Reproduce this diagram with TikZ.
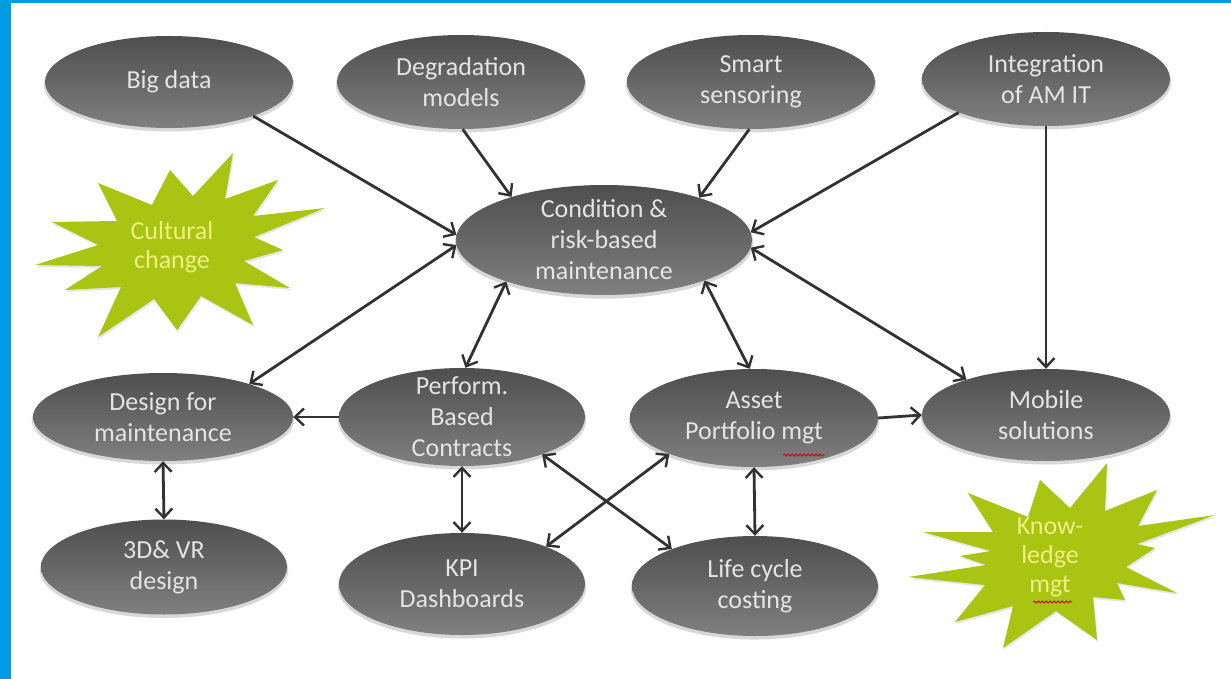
\documentclass[tikz,border=0pt]{standalone}
\usepackage{fontspec}
\setmainfont{Carlito}
\usetikzlibrary{shapes.geometric,arrows.meta,shadows,decorations.pathmorphing}
\definecolor{blueb}{RGB}{0,155,229}
\definecolor{ellTop}{RGB}{78,78,78}
\definecolor{ellBot}{RGB}{128,128,128}
\definecolor{burst}{RGB}{170,196,20}
\definecolor{bursttext}{RGB}{238,240,130}
\definecolor{elltext}{RGB}{228,228,228}
\definecolor{arr}{RGB}{50,50,50}
\begin{document}
\begin{tikzpicture}[x=1pt,y=-1pt,
  oval/.style={ellipse, inner sep=-40pt, top color=ellTop, bottom color=ellBot,
    text=elltext, align=center, font=\fontsize{26}{31}\selectfont,
    drop shadow={opacity=0.3, shadow scale=1.01, shadow xshift=0pt, shadow yshift=-3pt}},
  bursttxt/.style={text=bursttext, align=center, font=\fontsize{26}{29}\selectfont},
  burstfill/.style={fill=burst, drop shadow={opacity=0.2, shadow xshift=1pt, shadow yshift=-2pt}},
  tip/.tip={Straight Barb[length=9pt,width=17pt,line width=2.4pt]},
  conn/.style={draw=arr, line width=2.8pt, -tip},
  biconn/.style={draw=arr, line width=2.8pt, tip-tip},
  squiggle/.style={draw=red!80!black, line width=0.8pt, decorate,
    decoration={snake, amplitude=1pt, segment length=4pt}}
]
\useasboundingbox (0,0) rectangle (1231,679);
\fill[white] (0,0) rectangle (1231,679);
\fill[blueb] (0,0) rectangle (11,679);
\fill[blueb] (0,0) rectangle (1231,3);

% starbursts
\path[burstfill] (233,153) -- (193,196) -- (170,170) -- (152,205) -- (98,183) -- (117,221)
  -- (52,222) -- (98,245) -- (35,265) -- (102,266) -- (65,290) -- (121,287) -- (98,337)
  -- (154,299) -- (177,330) -- (201,296) -- (253,325) -- (235,283) -- (290,288)
  -- (244,261) -- (283,250) -- (254,237) -- (325,208) -- (253,216) -- (278,180)
  -- (225,199) -- cycle;
\node[bursttxt] (cult) at (172,247) {Cultural\\change};

\path[burstfill] (1107,463) -- (1105,511) -- (1157,490) -- (1138,526) -- (1215,515)
  -- (1137,544) -- (1155,548) -- (1126,567) -- (1177,593) -- (1117,583) -- (1125,600)
  -- (1093,597) -- (1097,640) -- (1056,611) -- (1003,648) -- (1013,606) -- (955,622)
  -- (985,585) -- (908,577) -- (986,565) -- (960,556) -- (991,551) -- (923,532)
  -- (993,532) -- (968,493) -- (1028,517) -- (1040,480) -- (1070,508) -- cycle;
\node[bursttxt] (know) at (1050,557) {Know-\\ledge\\mgt};
\draw[squiggle] (1033,602) -- (1072,602);

% ellipses
\node[oval, minimum width=248pt, minimum height=92pt] (big) at (169,82) {Big data};
\node[oval, minimum width=248pt, minimum height=94pt] (deg) at (461,82) {Degradation\\models};
\node[oval, minimum width=248pt, minimum height=94pt] (smart) at (751,82) {Smart\\sensoring};
\node[oval, minimum width=248pt, minimum height=94pt] (integ) at (1046,79) {Integration\\of AM IT};
\node[oval, minimum width=296pt, minimum height=110pt] (cond) at (604,240) {Condition \&\\risk-based\\maintenance};
\node[oval, minimum width=260pt, minimum height=88pt] (design) at (163,417) {Design for\\maintenance};
\node[oval, minimum width=246pt, minimum height=98pt] (perf) at (462,417) {Perform.\\Based\\Contracts};
\node[oval, minimum width=248pt, minimum height=98pt] (asset) at (754,418) {Asset\\Portfolio mgt};
\node[oval, minimum width=248pt, minimum height=92pt] (mobile) at (1046,415) {Mobile\\solutions};
\node[oval, minimum width=246pt, minimum height=95pt] (vr) at (164,567) {3D\& VR\\design};
\node[oval, minimum width=246pt, minimum height=102pt] (kpi) at (462,584) {KPI\\Dashboards};
\node[oval, minimum width=246pt, minimum height=100pt] (life) at (755,586) {Life cycle\\costing};
\draw[squiggle] (783,455) -- (825,455);

% connectors
\draw[conn] (big.-22) -- (cond.178);
\draw[conn] (deg.-88) -- (cond.155);
\draw[conn] (smart.-92) -- (cond.24);
\draw[conn] (integ.-159) -- (cond.3);
\draw[conn] (integ.south) -- (mobile.north);
\draw[biconn] (cond.-3) -- (mobile.156);
\draw[biconn] (cond.182) -- (design.21);
\draw[biconn] (cond.203) -- (perf.86);
\draw[biconn] (cond.-22) -- (asset.95);
\draw[conn] (perf.west) -- (design.east);
\draw[conn] (asset.east) -- (mobile.west);
\draw[biconn] (design.south) -- (vr.north);
\draw[biconn] (perf.south) -- (kpi.north);
\draw[biconn] (asset.south) -- (life.north);
\draw[biconn] (perf.-25) -- (life.156);
\draw[biconn] (asset.203) -- (kpi.24);
\end{tikzpicture}
\end{document}
